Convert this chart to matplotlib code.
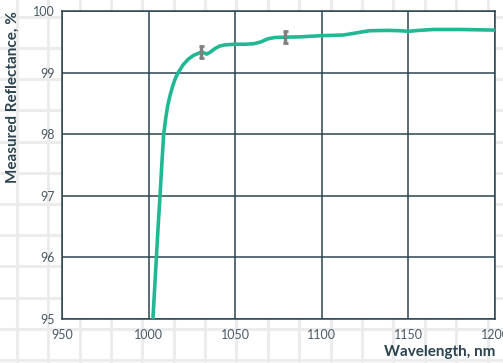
import numpy as np
import matplotlib.pyplot as plt
from matplotlib.lines import Line2D

# measured reflectance curve
wavelength = [1001.8, 1002.5, 1003.5, 1004.5, 1005.5, 1006.6, 1007.6, 1008.7,
              1010.0, 1011.0, 1012.3, 1014.0, 1015.5, 1017.1, 1020.0, 1023.0,
              1026.0, 1028.5, 1030.2, 1032.0, 1033.5, 1035.5, 1038.3, 1041.0,
              1044.1, 1049.9, 1055.7, 1061.0, 1065.0, 1069.0, 1073.0, 1078.5,
              1087.4, 1100.0, 1107.0, 1112.4, 1118.0, 1123.0, 1127.8, 1138.0,
              1145.0, 1149.9, 1156.0, 1164.4, 1180.0, 1190.0, 1200.0]
reflectance = [94.6, 95.0, 95.5, 96.0, 96.5, 97.0, 97.5, 98.0,
               98.28, 98.46, 98.62, 98.79, 98.91, 99.0, 99.13, 99.22,
               99.28, 99.31, 99.33, 99.32, 99.30, 99.33, 99.39, 99.43,
               99.45, 99.46, 99.46, 99.47, 99.50, 99.55, 99.57, 99.575,
               99.58, 99.6, 99.605, 99.61, 99.635, 99.66, 99.68, 99.685,
               99.68, 99.67, 99.685, 99.70, 99.70, 99.695, 99.69]

# error bars
err_x = [1030.2, 1078.5]
err_y = [99.33, 99.575]
err_size = [0.1, 0.095]

xticks = [950, 1000, 1050, 1100, 1150, 1200]
yticks = [95, 96, 97, 98, 99, 100]

dark = '#2c4450'
teal = '#22b893'

fig = plt.figure(figsize=(5.03, 3.63), dpi=100)

# graph-paper background
for i in range(17):
    x = (16.7 + 31.4 * i) / 503
    fig.add_artist(Line2D([x, x], [0, 1], color='#ececec', lw=2.2, zorder=0))
for i in range(13):
    y = (3 + 31.2 * i) / 363
    fig.add_artist(Line2D([0, 1], [y, y], color='#ececec', lw=2.2, zorder=0))

ax = fig.add_axes([62 / 503, 44 / 363, 433 / 503, 308 / 363])
ax.set_facecolor('white')
ax.set_zorder(1)

ax.plot(wavelength, reflectance, color=teal, lw=2.6, solid_capstyle='butt', zorder=3)
ax.errorbar(err_x, err_y, yerr=err_size, fmt='none', ecolor='#7f7f7f',
            elinewidth=2.5, capsize=1.8, capthick=2.0, zorder=4)

ax.set_xlim(950, 1200)
ax.set_ylim(95, 100)
ax.set_xticks(xticks)
ax.set_yticks(yticks)
ax.grid(True, color=dark, lw=1.1)
ax.set_axisbelow(True)
for s in ax.spines.values():
    s.set_color(dark)
    s.set_linewidth(1.1)
ax.tick_params(length=0, pad=5, labelsize=9, labelcolor='#4b5a64')
ax.tick_params(axis='x', pad=7)
for lab in ax.get_xticklabels() + ax.get_yticklabels():
    lab.set_family('Lato')

ax.set_xlabel('Wavelength, nm', fontsize=11, fontweight='bold', color=dark,
              family='Lato')
ax.xaxis.set_label_coords(1.0, -0.085)
ax.xaxis.label.set_horizontalalignment('right')
ax.set_ylabel('Measured Reflectance, %', fontsize=11, fontweight='bold',
              color=dark, family='Lato')
ax.yaxis.set_label_coords(-0.097, 1.0)
ax.yaxis.label.set_horizontalalignment('right')

fig.savefig('out.png', dpi=100)
